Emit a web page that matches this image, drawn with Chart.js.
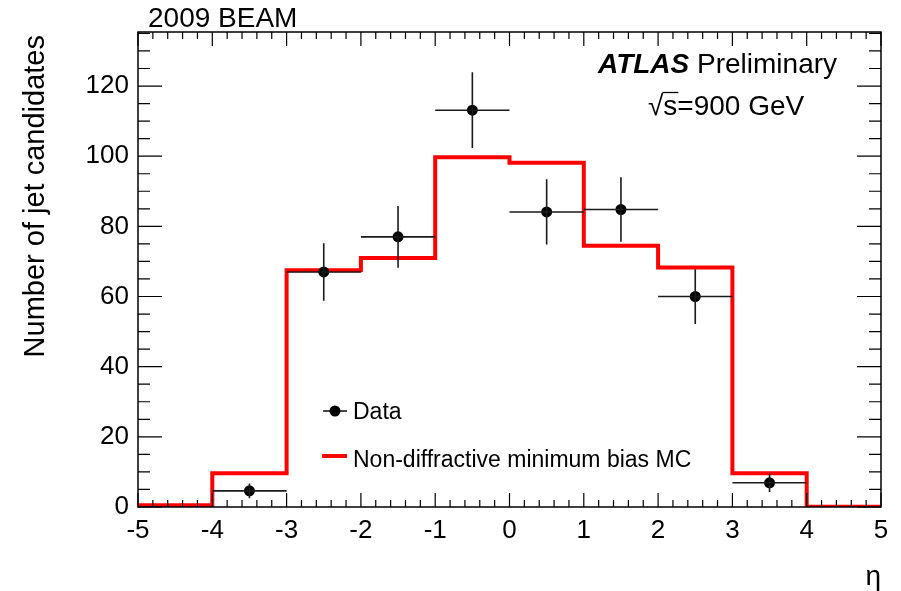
<!DOCTYPE html>
<html>
<head>
<meta charset="utf-8">
<script src="https://cdn.jsdelivr.net/npm/chart.js@4.4.0/dist/chart.umd.min.js"></script>
<style>
  html, body { margin: 0; padding: 0; background: #fff; }
  #wrap { width: 901px; height: 591px; }
</style>
</head>
<body>
<div id="wrap"><canvas id="mycanvas" width="901" height="591"></canvas></div>
<script>
// bin edges in eta and MC histogram contents (one per bin)
var binEdges = [-5, -4, -3, -2, -1, 0, 1, 2, 3, 4, 5];
var mcValues = [0.5, 9.6, 67.5, 71.0, 99.7, 98.1, 74.5, 68.3, 9.6, 0.1];

// data points, with errors
var dataEta = [-3.5, -2.5, -1.5, -0.5, 0.5, 1.5, 2.5, 3.5];
var dataValues = [4.6, 67.0, 77.0, 113.1, 84.1, 84.8, 60.0, 6.9];
var dataErrors = [2.1, 8.2, 8.8, 10.8, 9.3, 9.2, 7.8, 2.6];
var etaErrors = [0.5, 0.5, 0.5, 0.5, 0.5, 0.5, 0.5, 0.5];

var xTicks = [-5, -4, -3, -2, -1, 0, 1, 2, 3, 4, 5];
var yTicks = [0, 20, 40, 60, 80, 100, 120];

var FONT = "'Liberation Sans', Arial, Helvetica, sans-serif";

// step line points: value held from each edge to the next
var mcPoints = [];
for (var i = 0; i < mcValues.length; i++) {
	mcPoints.push({x: binEdges[i], y: mcValues[i]});
}
mcPoints.push({x: binEdges[binEdges.length - 1], y: mcValues[mcValues.length - 1]});

var dataPoints = [];
for (var j = 0; j < dataEta.length; j++) {
	dataPoints.push({x: dataEta[j], y: dataValues[j]});
}

// ROOT-like frame, inner ticks, error bars and text
var rootStyle = {
	id: 'rootStyle',
	afterDatasetsDraw: function(chart) {
		var ctx = chart.ctx;
		var xs = chart.scales.x, ys = chart.scales.y;
		var a = chart.chartArea;

		// error bars
		ctx.save();
		ctx.strokeStyle = '#1a1a1a';
		ctx.lineWidth = 1.6;
		for (var k = 0; k < dataEta.length; k++) {
			var px = xs.getPixelForValue(dataEta[k]);
			var py = ys.getPixelForValue(dataValues[k]);
			ctx.beginPath();
			ctx.moveTo(xs.getPixelForValue(dataEta[k] - etaErrors[k]), py);
			ctx.lineTo(xs.getPixelForValue(dataEta[k] + etaErrors[k]), py);
			ctx.moveTo(px, ys.getPixelForValue(dataValues[k] - dataErrors[k]));
			ctx.lineTo(px, ys.getPixelForValue(dataValues[k] + dataErrors[k]));
			ctx.stroke();
		}
		ctx.restore();

		// frame
		ctx.save();
		ctx.strokeStyle = '#000';
		ctx.lineWidth = 1.5;
		ctx.strokeRect(a.left, a.top, a.right - a.left, a.bottom - a.top);

		// x ticks, bottom and top, minor every 0.2
		ctx.lineWidth = 1.2;
		ctx.beginPath();
		for (var t = -50; t <= 50; t += 2) {
			var v = t / 10;
			var x = xs.getPixelForValue(v);
			var len = (t % 10 === 0) ? 14 : 7;
			ctx.moveTo(x, a.bottom);
			ctx.lineTo(x, a.bottom - len);
			ctx.moveTo(x, a.top);
			ctx.lineTo(x, a.top + len);
		}
		// y ticks, left and right, minor every 5
		for (var u = 0; u <= ys.max; u += 5) {
			var y = ys.getPixelForValue(u);
			var ylen = (u % 20 === 0) ? 24 : 12;
			ctx.moveTo(a.left, y);
			ctx.lineTo(a.left + ylen, y);
			ctx.moveTo(a.right, y);
			ctx.lineTo(a.right - ylen, y);
		}
		ctx.stroke();
		ctx.restore();
	},
	afterDraw: function(chart) {
		var ctx = chart.ctx;
		ctx.save();
		ctx.fillStyle = '#000';
		ctx.textBaseline = 'alphabetic';

		// top-left label
		ctx.font = '28px ' + FONT;
		ctx.textAlign = 'left';
		ctx.fillText('2009 BEAM', 148, 27);

		// ATLAS Preliminary
		ctx.font = 'italic bold 28px ' + FONT;
		ctx.fillText('ATLAS', 598, 73);
		var w = ctx.measureText('ATLAS ').width;
		ctx.font = '28px ' + FONT;
		ctx.fillText('Preliminary', 598 + w, 73);

		// sqrt(s)=900 GeV
		ctx.font = '28px ' + FONT;
		ctx.fillText('\u221A', 648, 115);
		var sx = 648 + ctx.measureText('\u221A').width;
		ctx.fillText('s=900 GeV', sx, 115);
		var sw = ctx.measureText('s').width;
		ctx.lineWidth = 1.3;
		ctx.beginPath();
		ctx.moveTo(sx - 1, 92.5);
		ctx.lineTo(sx + sw + 1, 92.5);
		ctx.stroke();

		// axis titles
		ctx.font = '28px ' + FONT;
		ctx.textAlign = 'right';
		ctx.fillText('\u03B7', 881, 585);
		ctx.save();
		ctx.translate(44, 35);
		ctx.rotate(-Math.PI / 2);
		ctx.font = '29px ' + FONT;
		ctx.textAlign = 'right';
		ctx.fillText('Number of jet candidates', 0, 0);
		ctx.restore();

		// legend
		ctx.font = '23px ' + FONT;
		ctx.textAlign = 'left';
		ctx.strokeStyle = '#1a1a1a';
		ctx.lineWidth = 1.6;
		ctx.beginPath();
		ctx.moveTo(323, 411);
		ctx.lineTo(347, 411);
		ctx.stroke();
		ctx.beginPath();
		ctx.arc(335, 411, 5.5, 0, Math.PI * 2);
		ctx.fill();
		ctx.fillText(chart.data.datasets[1].label, 353, 419);

		ctx.strokeStyle = '#ff0000';
		ctx.lineWidth = 4;
		ctx.beginPath();
		ctx.moveTo(322, 456);
		ctx.lineTo(347, 456);
		ctx.stroke();
		ctx.fillText(chart.data.datasets[0].label, 353, 467);
		ctx.restore();
	}
};

var ctx = document.getElementById('mycanvas');

var chart = new Chart(ctx, {
	type: 'line',
	data: {
		datasets: [
			{
				label: 'Non-diffractive minimum bias MC',
				data: mcPoints,
				stepped: 'before',
				borderColor: '#ff0000',
				borderWidth: 4,
				pointRadius: 0,
				fill: false,
				order: 2
			},
			{
				type: 'scatter',
				label: 'Data',
				data: dataPoints,
				showLine: false,
				pointRadius: 5.5,
				pointBackgroundColor: '#000',
				pointBorderColor: '#000',
				pointBorderWidth: 0,
				order: 1
			}
		]
	},
	options: {
		responsive: false,
		animation: false,
		layout: { padding: { top: 32, right: 20, left: 0, bottom: 0 } },
		plugins: {
			legend: { display: false },
			tooltip: { enabled: false },
			title: { display: false }
		},
		scales: {
			x: {
				type: 'linear',
				min: -5,
				max: 5,
				afterBuildTicks: function(scale) {
					scale.ticks = xTicks.map(function(v) { return {value: v}; });
				},
				afterFit: function(scale) { scale.height = 84; },
				grid: { display: false, drawTicks: false },
				border: { display: false },
				ticks: {
					color: '#000',
					padding: 8,
					maxRotation: 0,
					autoSkip: false,
					font: { family: FONT, size: 26 }
				}
			},
			y: {
				type: 'linear',
				min: 0,
				max: 135.4,
				afterBuildTicks: function(scale) {
					scale.ticks = yTicks.map(function(v) { return {value: v}; });
				},
				afterFit: function(scale) { scale.width = 138; },
				grid: { display: false, drawTicks: false },
				border: { display: false },
				ticks: {
					color: '#000',
					padding: 9,
					font: { family: FONT, size: 26 }
				}
			}
		}
	},
	plugins: [rootStyle]
});
</script>
</body>
</html>
